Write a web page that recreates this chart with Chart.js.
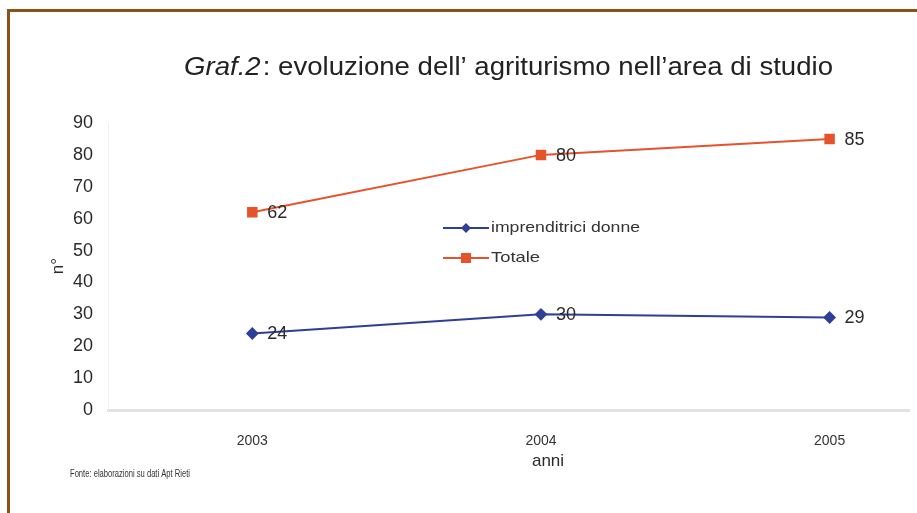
<!DOCTYPE html>
<html>
<head>
<meta charset="utf-8">
<script src="https://cdn.jsdelivr.net/npm/chart.js@4/dist/chart.umd.min.js"></script>
<style>
  html, body { margin: 0; padding: 0; background: #fff; overflow: hidden; }
  #wrap { position: relative; width: 917px; height: 513px; }
  #frame { position: absolute; left: 7px; top: 9px; width: 940px; height: 540px;
           border-left: 3px solid #8a5216; border-top: 3px solid #8a5216; box-sizing: border-box; }
  canvas { position: absolute; left: 0; top: 0; }
</style>
</head>
<body>
<div id="wrap">
  <div id="frame"></div>
  <canvas id="c" width="917" height="513"></canvas>
</div>
<script>
// Years on the category axis
const years = [2003, 2004, 2005];
// Number of agritourism businesses run by women
const imprenditriciDonne = [24, 30, 29];
// Total number of agritourism businesses
const totale = [62, 80, 85];
// Y-axis tick values
const yTicks = [0, 10, 20, 30, 40, 50, 60, 70, 80, 90];

const seriesNames = ['imprenditrici donne', 'Totale'];
const BLUE = '#2f3f98';
const RED = '#e6532b';
const FONT = '"Liberation Sans", Arial, sans-serif';

const toPoints = vals => years.map((y, i) => ({ x: y, y: vals[i] }));

// Draws text horizontally scaled to a given width
function fitText(ctx, text, x, y, font, width) {
  ctx.font = font;
  const w = ctx.measureText(text).width;
  const k = width / w;
  ctx.save();
  ctx.translate(x, y);
  ctx.scale(k, 1);
  ctx.fillText(text, 0, 0);
  ctx.restore();
}

// Value labels to the right of each point, plus titles, legend and source note
const annotations = {
  id: 'annotations',
  afterDatasetsDraw(chart) {
    const ctx = chart.ctx;
    ctx.save();
    ctx.fillStyle = '#2a2a2a';
    ctx.font = '18px ' + FONT;
    ctx.textAlign = 'left';
    ctx.textBaseline = 'middle';
    chart.data.datasets.forEach((ds, di) => {
      const meta = chart.getDatasetMeta(di);
      meta.data.forEach((pt, i) => {
        ctx.fillText(String(ds.data[i].y), pt.x + 15, pt.y + 1);
      });
    });
    ctx.restore();
  },
  afterDraw(chart) {
    const ctx = chart.ctx;
    ctx.save();
    // Title: italic label followed by regular text
    const part1 = 'Graf.2';
    const part2 = ': evoluzione dell\u2019 agriturismo nell\u2019area di studio';
    ctx.fillStyle = '#222';
    ctx.textBaseline = 'alphabetic';
    ctx.textAlign = 'left';
    const size = 26;
    ctx.font = 'italic ' + size + 'px ' + FONT;
    const w1 = ctx.measureText(part1).width + 2;
    ctx.font = size + 'px ' + FONT;
    const w2 = ctx.measureText(part2).width;
    const k = 649 / (w1 + w2);
    ctx.save();
    ctx.translate(184, 75);
    ctx.scale(k, 1);
    ctx.font = 'italic ' + size + 'px ' + FONT;
    ctx.fillText(part1, 0, 0);
    ctx.font = size + 'px ' + FONT;
    ctx.fillText(part2, w1, 0);
    ctx.restore();

    // Axis titles
    ctx.font = '17px ' + FONT;
    ctx.textAlign = 'center';
    ctx.textBaseline = 'middle';
    ctx.fillStyle = '#2a2a2a';
    ctx.fillText('anni', 548, 461);
    ctx.save();
    ctx.translate(58, 266);
    ctx.rotate(-Math.PI / 2);
    ctx.fillText('n\u00b0', 0, 0);
    ctx.restore();

    // Source note
    ctx.textAlign = 'left';
    ctx.fillStyle = '#333';
    fitText(ctx, 'Fonte: elaborazioni su dati Apt Rieti', 70, 474, '11px ' + FONT, 120);

    // Legend
    const items = [
      { name: seriesNames[0], color: BLUE, style: 'rectRot', y: 228, w: 149 },
      { name: seriesNames[1], color: RED, style: 'rect', y: 258, w: 49 }
    ];
    items.forEach(it => {
      ctx.strokeStyle = it.color;
      ctx.lineWidth = 2;
      ctx.beginPath();
      ctx.moveTo(443, it.y);
      ctx.lineTo(489, it.y);
      ctx.stroke();
      ctx.fillStyle = it.color;
      if (it.style === 'rect') {
        ctx.fillRect(461, it.y - 5, 10, 10);
      } else {
        ctx.beginPath();
        ctx.moveTo(466, it.y - 5);
        ctx.lineTo(471, it.y);
        ctx.lineTo(466, it.y + 5);
        ctx.lineTo(461, it.y);
        ctx.closePath();
        ctx.fill();
      }
      ctx.fillStyle = '#333';
      ctx.textAlign = 'left';
      ctx.textBaseline = 'middle';
      fitText(ctx, it.name, 491, it.y, '15px ' + FONT, it.w);
    });
    ctx.restore();
  }
};

new Chart(document.getElementById('c'), {
  type: 'line',
  data: {
    datasets: [
      {
        label: seriesNames[1],
        data: toPoints(totale),
        borderColor: RED,
        backgroundColor: RED,
        borderWidth: 2,
        pointStyle: 'rect',
        pointRadius: 6,
        pointHoverRadius: 6,
        tension: 0
      },
      {
        label: seriesNames[0],
        data: toPoints(imprenditriciDonne),
        borderColor: BLUE,
        backgroundColor: BLUE,
        borderWidth: 2,
        pointStyle: 'rectRot',
        pointRadius: 5,
        pointHoverRadius: 5,
        tension: 0
      }
    ]
  },
  options: {
    responsive: false,
    animation: false,
    events: [],
    layout: { padding: { left: 0, right: 0, top: 123, bottom: 0 } },
    plugins: { legend: { display: false }, title: { display: false }, tooltip: { enabled: false } },
    scales: {
      x: {
        type: 'linear',
        min: years[0] - 0.5,
        max: years[0] - 0.5 + (910 - 108) / 289,
        afterFit(scale) { scale.height = 103; },
        afterBuildTicks(scale) { scale.ticks = years.map(v => ({ value: v })); },
        grid: { display: false, drawTicks: false },
        border: { display: true, color: '#e2e2e2', width: 3 },
        ticks: {
          padding: 23,
          color: '#333',
          font: { family: FONT, size: 14 },
          callback: v => String(v)
        }
      },
      y: {
        min: yTicks[0],
        max: yTicks[yTicks.length - 1],
        afterFit(scale) { scale.width = 108; },
        afterBuildTicks(scale) { scale.ticks = yTicks.map(v => ({ value: v })); },
        grid: { display: false, drawTicks: false },
        border: { display: true, color: '#f0f0f0', width: 1 },
        ticks: {
          padding: 15,
          color: '#2a2a2a',
          font: { family: FONT, size: 18 }
        }
      }
    }
  },
  plugins: [annotations]
});
</script>
</body>
</html>
